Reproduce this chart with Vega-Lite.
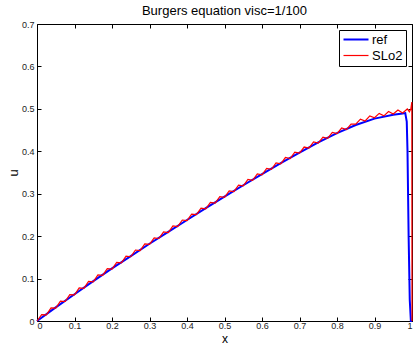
{
 "$schema": "https://vega.github.io/schema/vega-lite/v6.json",
 "width": 375, "height": 297,
 "autosize": "none",
 "padding": {"left": 37, "top": 24, "right": 1, "bottom": 24},
 "background": "white",
 "config": {
  "font": "Liberation Sans",
  "view": {"stroke": null},
  "axis": {"domainColor": "black", "domainWidth": 1, "tickColor": "black", "tickSize": -4, "grid": false,
           "labelFont": "Liberation Sans", "labelFontSize": 9, "labelColor": "#222", "labelPadding": 7,
           "titleFont": "Liberation Sans", "titleFontSize": 13, "titleFontWeight": "normal", "titleColor": "black"},
  "legend": {"orient": "top-right", "offset": 6, "padding": 3, "fillColor": "white", "strokeColor": "black", "strokeWidth": 1,
             "labelFontSize": 13, "labelFont": "Liberation Sans", "labelColor": "black",
             "symbolType": "M-1,0H4", "symbolSize": 100, "rowPadding": 2, "labelOffset": 17}
 },
 "title": {"text": "Burgers equation visc=1/100", "fontSize": 13, "fontWeight": "normal", "font": "Liberation Sans", "color": "black", "baseline": "alphabetic", "offset": 7, "dy": 15, "anchor": "middle"},
 "datasets": {
  "ref": [
   {"x":0,"u":0,"s":"ref"},{"x":0.05,"u":0.032,"s":"ref"},{"x":0.1,"u":0.063,"s":"ref"},{"x":0.15,"u":0.094,"s":"ref"},
   {"x":0.2,"u":0.124,"s":"ref"},{"x":0.25,"u":0.153,"s":"ref"},{"x":0.3,"u":0.182,"s":"ref"},{"x":0.35,"u":0.21,"s":"ref"},
   {"x":0.4,"u":0.238,"s":"ref"},{"x":0.45,"u":0.266,"s":"ref"},{"x":0.5,"u":0.293,"s":"ref"},{"x":0.55,"u":0.32,"s":"ref"},
   {"x":0.6,"u":0.346,"s":"ref"},{"x":0.65,"u":0.372,"s":"ref"},{"x":0.7,"u":0.397,"s":"ref"},{"x":0.75,"u":0.421,"s":"ref"},
   {"x":0.8,"u":0.443,"s":"ref"},{"x":0.85,"u":0.462,"s":"ref"},{"x":0.9,"u":0.477,"s":"ref"},{"x":0.95,"u":0.486,"s":"ref"},
   {"x":0.975,"u":0.489,"s":"ref"},{"x":0.982,"u":0.49,"s":"ref"},{"x":0.986,"u":0.47,"s":"ref"},{"x":0.988,"u":0.4,"s":"ref"},
   {"x":0.991,"u":0.2,"s":"ref"},{"x":0.994,"u":0.05,"s":"ref"},{"x":0.997,"u":0,"s":"ref"},{"x":1,"u":0,"s":"ref"}
  ],
  "slo2": [
   {"x":0,"u":0,"s":"SLo2"},{"x":0.0125,"u":0.015,"s":"SLo2"},{"x":0.025,"u":0.0145,"s":"SLo2"},{"x":0.0375,"u":0.031,"s":"SLo2"},
   {"x":0.05,"u":0.0305,"s":"SLo2"},{"x":0.0625,"u":0.0468,"s":"SLo2"},{"x":0.075,"u":0.046,"s":"SLo2"},{"x":0.0875,"u":0.0623,"s":"SLo2"},
   {"x":0.1,"u":0.0615,"s":"SLo2"},{"x":0.1125,"u":0.0778,"s":"SLo2"},{"x":0.125,"u":0.077,"s":"SLo2"},{"x":0.1375,"u":0.0933,"s":"SLo2"},
   {"x":0.15,"u":0.0925,"s":"SLo2"},{"x":0.1625,"u":0.1085,"s":"SLo2"},{"x":0.175,"u":0.1075,"s":"SLo2"},{"x":0.1875,"u":0.1235,"s":"SLo2"},
   {"x":0.2,"u":0.1225,"s":"SLo2"},{"x":0.2125,"u":0.1383,"s":"SLo2"},{"x":0.225,"u":0.137,"s":"SLo2"},{"x":0.2375,"u":0.1528,"s":"SLo2"},
   {"x":0.25,"u":0.1515,"s":"SLo2"},{"x":0.2625,"u":0.1673,"s":"SLo2"},{"x":0.275,"u":0.166,"s":"SLo2"},{"x":0.2875,"u":0.1818,"s":"SLo2"},
   {"x":0.3,"u":0.1805,"s":"SLo2"},{"x":0.3125,"u":0.196,"s":"SLo2"},{"x":0.325,"u":0.1945,"s":"SLo2"},{"x":0.3375,"u":0.21,"s":"SLo2"},
   {"x":0.35,"u":0.2085,"s":"SLo2"},{"x":0.3625,"u":0.224,"s":"SLo2"},{"x":0.375,"u":0.2225,"s":"SLo2"},{"x":0.3875,"u":0.238,"s":"SLo2"},
   {"x":0.4,"u":0.2365,"s":"SLo2"},{"x":0.4125,"u":0.252,"s":"SLo2"},{"x":0.425,"u":0.2505,"s":"SLo2"},{"x":0.4375,"u":0.266,"s":"SLo2"},
   {"x":0.45,"u":0.2645,"s":"SLo2"},{"x":0.4625,"u":0.2798,"s":"SLo2"},{"x":0.475,"u":0.278,"s":"SLo2"},{"x":0.4875,"u":0.2933,"s":"SLo2"},
   {"x":0.5,"u":0.2915,"s":"SLo2"},{"x":0.5125,"u":0.3068,"s":"SLo2"},{"x":0.525,"u":0.305,"s":"SLo2"},{"x":0.5375,"u":0.3203,"s":"SLo2"},
   {"x":0.55,"u":0.3185,"s":"SLo2"},{"x":0.5625,"u":0.3335,"s":"SLo2"},{"x":0.575,"u":0.3315,"s":"SLo2"},{"x":0.5875,"u":0.3465,"s":"SLo2"},
   {"x":0.6,"u":0.3445,"s":"SLo2"},{"x":0.6125,"u":0.3595,"s":"SLo2"},{"x":0.625,"u":0.3575,"s":"SLo2"},{"x":0.6375,"u":0.3725,"s":"SLo2"},
   {"x":0.65,"u":0.3705,"s":"SLo2"},{"x":0.6625,"u":0.3853,"s":"SLo2"},{"x":0.675,"u":0.383,"s":"SLo2"},{"x":0.6875,"u":0.3978,"s":"SLo2"},
   {"x":0.7,"u":0.3955,"s":"SLo2"},{"x":0.7125,"u":0.41,"s":"SLo2"},{"x":0.725,"u":0.4075,"s":"SLo2"},{"x":0.7375,"u":0.422,"s":"SLo2"},
   {"x":0.75,"u":0.4195,"s":"SLo2"},{"x":0.7625,"u":0.4335,"s":"SLo2"},{"x":0.775,"u":0.4305,"s":"SLo2"},{"x":0.7875,"u":0.4445,"s":"SLo2"},
   {"x":0.8,"u":0.4415,"s":"SLo2"},{"x":0.8125,"u":0.4548,"s":"SLo2"},{"x":0.825,"u":0.451,"s":"SLo2"},{"x":0.8375,"u":0.4643,"s":"SLo2"},
   {"x":0.85,"u":0.464,"s":"SLo2"},{"x":0.8625,"u":0.4758,"s":"SLo2"},{"x":0.875,"u":0.4715,"s":"SLo2"},{"x":0.8875,"u":0.4833,"s":"SLo2"},
   {"x":0.9,"u":0.479,"s":"SLo2"},{"x":0.9125,"u":0.4893,"s":"SLo2"},{"x":0.925,"u":0.4835,"s":"SLo2"},{"x":0.9375,"u":0.4938,"s":"SLo2"},
   {"x":0.95,"u":0.488,"s":"SLo2"},{"x":0.9625,"u":0.4973,"s":"SLo2"},{"x":0.975,"u":0.4905,"s":"SLo2"},{"x":0.9875,"u":0.4998,"s":"SLo2"},
   {"x":0.993,"u":0.493,"s":"SLo2"},{"x":0.997,"u":0.5,"s":"SLo2"},{"x":0.9995,"u":0.516,"s":"SLo2"},{"x":1,"u":0,"s":"SLo2"}
  ]
 },
 "layer": [
  {
   "data": {"name": "ref"},
   "mark": {"type": "line"},
   "encoding": {
    "x": {"field": "x", "type": "quantitative", "scale": {"domain": [0, 1], "nice": false, "zero": false},
          "axis": {"orient": "bottom", "values": [0,0.1,0.2,0.3,0.4,0.5,0.6,0.7,0.8,0.9,1], "format": "~g", "title": "x", "titleY": 21.5, "titleFontSize": 12, "titleBaseline": "alphabetic", "labelPadding": 4}},
    "y": {"field": "u", "type": "quantitative", "scale": {"domain": [0, 0.7], "nice": false},
          "axis": {"orient": "left", "values": [0,0.1,0.2,0.3,0.4,0.5,0.6,0.7], "format": "~g", "title": "u", "titleX": -20, "titleBaseline": "alphabetic"}},
    "color": {"field": "s", "type": "nominal", "scale": {"domain": ["ref", "SLo2"], "range": ["#0000ff", "#ff0000"]}, "legend": {"title": null}},
    "strokeWidth": {"field": "s", "type": "nominal", "scale": {"domain": ["ref", "SLo2"], "range": [2, 1.2]}, "legend": {"title": null}}
   }
  },
  {
   "data": {"name": "slo2"},
   "mark": {"type": "line"},
   "encoding": {
    "x": {"field": "x", "type": "quantitative",
          "axis": {"orient": "top", "values": [0,0.1,0.2,0.3,0.4,0.5,0.6,0.7,0.8,0.9,1], "labels": false, "title": null}},
    "y": {"field": "u", "type": "quantitative",
          "axis": {"orient": "right", "values": [0,0.1,0.2,0.3,0.4,0.5,0.6,0.7], "labels": false, "title": null}},
    "color": {"field": "s", "type": "nominal", "legend": {"title": null}},
    "strokeWidth": {"field": "s", "type": "nominal", "legend": {"title": null}}
   }
  }
 ],
 "resolve": {"axis": {"x": "independent", "y": "independent"}}
}
